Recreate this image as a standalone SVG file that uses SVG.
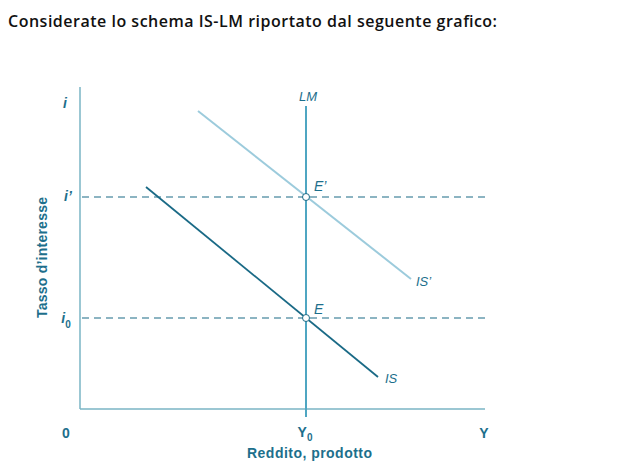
<svg xmlns="http://www.w3.org/2000/svg" width="633" height="468" viewBox="0 0 633 468">
<style>
.t{font-family:"Open Sans","Noto Sans",sans-serif;fill:#111;font-size:16px;font-weight:600}
.lb{font-family:"Liberation Sans",Arial,sans-serif;fill:#1d6f8c;font-style:italic}
.ax{font-family:"Liberation Sans",Arial,sans-serif;fill:#1d6f8c;font-weight:bold}
.dash{stroke:#1a6a86;stroke-width:1.2;stroke-dasharray:7,5;fill:none}
</style>
<rect width="633" height="468" fill="#fff"/>
<text class="t" x="8" y="27" textLength="489">Considerate lo schema IS-LM riportato dal seguente grafico:</text>
<g id="axes">
<line x1="80" y1="87" x2="80" y2="409" stroke="#7ab4c4" stroke-width="1.5"/>
<line x1="80" y1="409" x2="485" y2="409" stroke="#7ab4c4" stroke-width="1.5"/>
<text class="ax" x="66" y="438" font-size="14" text-anchor="middle">0</text>
<text class="ax" x="484" y="438" font-size="14" text-anchor="middle">Y</text>
<text class="ax" x="305" y="437" font-size="14" text-anchor="middle">Y<tspan font-size="10" dy="4">0</tspan></text>
<text class="ax" x="247" y="458" font-size="14" textLength="125">Reddito, prodotto</text>
<text class="ax" transform="translate(47,318) rotate(-90)" font-size="14" textLength="121">Tasso d’interesse</text>
<text class="ax" x="65" y="108" font-size="14" font-style="italic" text-anchor="middle">i</text>
<text class="ax" x="68" y="201" font-size="14" font-style="italic" text-anchor="middle">i’</text>
<text class="ax" x="66" y="323" font-size="14" font-style="italic" text-anchor="middle">i<tspan font-size="10" font-style="normal" dy="5">0</tspan></text>
</g>
<g id="connectors">
<line class="dash" x1="82" y1="197" x2="486" y2="197"/>
<line class="dash" x1="82" y1="318" x2="486" y2="318"/>
</g>
<g id="LM">
<line x1="306" y1="106" x2="306" y2="417" stroke="#4fa6c2" stroke-width="2"/>
<text class="lb" x="308" y="101" font-size="13" text-anchor="middle">LM</text>
</g>
<g id="ISp">
<line x1="198" y1="111" x2="411" y2="279" stroke="#9ccbdc" stroke-width="2"/>
<text class="lb" x="416" y="286" font-size="13">IS’</text>
</g>
<g id="IS">
<line x1="146" y1="187" x2="378" y2="377" stroke="#1a6a86" stroke-width="1.8"/>
<text class="lb" x="385" y="383" font-size="13">IS</text>
</g>
<g id="Ep">
<circle cx="306" cy="197" r="3.5" fill="#fff" stroke="#1a6a86" stroke-width="1"/>
<text class="lb" x="314" y="191" font-size="14">E’</text>
</g>
<g id="E">
<circle cx="306" cy="318" r="3.5" fill="#fff" stroke="#1a6a86" stroke-width="1"/>
<text class="lb" x="314" y="314" font-size="14">E</text>
</g>
</svg>
